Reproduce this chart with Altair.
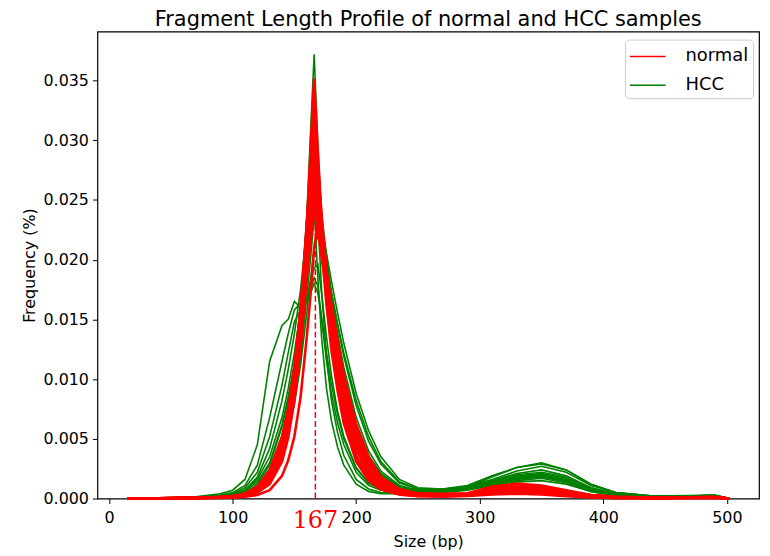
import altair as alt
import pandas as pd

# x positions (bp) at which the profiles are read
size_bp = [15, 40, 70, 90, 100, 110, 120, 130, 140, 145, 150, 155, 160, 163, 166, 169, 172, 176, 180, 185,
           190, 200, 210, 220, 235, 250, 270, 290, 310, 330, 350, 370, 390, 410, 440, 470, 490, 502]

# normal samples
normal_1 = [0, 0.00002, 0.00004, 0.00008, 0.00012, 0.00022, 0.0005, 0.0013, 0.0034, 0.0056, 0.009, 0.0145, 0.0225, 0.029, 0.0352, 0.029, 0.0235, 0.018, 0.014, 0.0102, 0.0072, 0.0036, 0.0018, 0.0009, 0.0004, 0.00025, 0.0002, 0.00025, 0.0004, 0.0005, 0.0004, 0.00025, 0.00012, 0.00006, 0.00004, 0.00006, 0.00008, 0]
normal_2 = [0, 0.00002, 0.00005, 0.0001, 0.00014, 0.00026, 0.0006, 0.0015, 0.0037, 0.006, 0.0093, 0.0142, 0.0215, 0.027, 0.033, 0.028, 0.0235, 0.019, 0.015, 0.0113, 0.0082, 0.0042, 0.0021, 0.001, 0.00045, 0.0003, 0.00022, 0.0003, 0.0005, 0.0006, 0.0005, 0.0003, 0.00015, 0.00008, 0.00005, 0.00007, 0.00009, 0]
normal_3 = [0, 0.00003, 0.00006, 0.00013, 0.0002, 0.0004, 0.0009, 0.0022, 0.005, 0.0075, 0.011, 0.016, 0.0225, 0.027, 0.031, 0.0265, 0.0215, 0.0168, 0.013, 0.0095, 0.0067, 0.0033, 0.0016, 0.0008, 0.00035, 0.00022, 0.0002, 0.00025, 0.0004, 0.00045, 0.0004, 0.00025, 0.00012, 0.00006, 0.00004, 0.00005, 0.00007, 0]
normal_4 = [0, 0.00002, 0.00004, 0.00008, 0.00012, 0.00022, 0.0005, 0.0012, 0.0031, 0.0051, 0.0082, 0.0128, 0.019, 0.0235, 0.029, 0.026, 0.0228, 0.0192, 0.016, 0.0125, 0.0095, 0.0053, 0.0029, 0.0015, 0.0006, 0.00035, 0.0003, 0.00035, 0.0007, 0.0009, 0.0008, 0.0005, 0.00025, 0.00012, 0.00006, 0.0001, 0.00012, 0]
normal_5 = [0, 0.00003, 0.00006, 0.00011, 0.00017, 0.00033, 0.0008, 0.0019, 0.0044, 0.0066, 0.0098, 0.0145, 0.0205, 0.0238, 0.027, 0.0245, 0.0215, 0.0178, 0.0146, 0.0113, 0.0085, 0.0046, 0.0024, 0.0012, 0.00055, 0.00032, 0.00028, 0.00032, 0.0006, 0.0008, 0.0007, 0.00045, 0.0002, 0.0001, 0.00005, 0.00008, 0.0001, 0]
normal_6 = [0, 0.00002, 0.00005, 0.0001, 0.00015, 0.0003, 0.0007, 0.0016, 0.0038, 0.0058, 0.0088, 0.013, 0.0185, 0.0218, 0.025, 0.0235, 0.0212, 0.0185, 0.0158, 0.0128, 0.0099, 0.0058, 0.0032, 0.0017, 0.0007, 0.0004, 0.00035, 0.0004, 0.0009, 0.0012, 0.001, 0.0006, 0.0003, 0.00015, 0.00007, 0.0001, 0.00013, 0]
normal_7 = [0, 0.00001, 0.00003, 0.00006, 0.00009, 0.00016, 0.0003, 0.0007, 0.0019, 0.0032, 0.0052, 0.0085, 0.0135, 0.017, 0.021, 0.023, 0.0215, 0.0188, 0.0162, 0.0132, 0.0103, 0.0062, 0.0035, 0.0018, 0.0008, 0.00045, 0.0004, 0.00045, 0.001, 0.00125, 0.0011, 0.0007, 0.0003, 0.00015, 0.00008, 0.0001, 0.00012, 0]
normal_8 = [0, 0.00003, 0.00006, 0.00012, 0.00018, 0.00035, 0.0008, 0.0019, 0.0045, 0.0069, 0.0103, 0.0155, 0.023, 0.028, 0.032, 0.0265, 0.021, 0.0162, 0.0124, 0.009, 0.0063, 0.0031, 0.0015, 0.00075, 0.00035, 0.0002, 0.00018, 0.00022, 0.00035, 0.0004, 0.00035, 0.0002, 0.0001, 0.00005, 0.00003, 0.00005, 0.00006, 0]
normal_9 = [0, 0.00002, 0.00005, 0.0001, 0.00015, 0.00028, 0.00065, 0.0016, 0.0039, 0.0061, 0.0094, 0.0142, 0.0205, 0.0245, 0.028, 0.0248, 0.0212, 0.0174, 0.014, 0.0106, 0.0078, 0.0041, 0.0021, 0.00105, 0.00048, 0.0003, 0.00026, 0.0003, 0.00055, 0.0007, 0.0006, 0.0004, 0.0002, 0.0001, 0.00005, 0.00007, 0.00009, 0]
normal_10 = [0, 0.00002, 0.00005, 0.0001, 0.00015, 0.0003, 0.0007, 0.0017, 0.004, 0.0062, 0.0095, 0.0145, 0.021, 0.0255, 0.03, 0.026, 0.022, 0.018, 0.0145, 0.011, 0.008, 0.0042, 0.0022, 0.0011, 0.0005, 0.0003, 0.00025, 0.0003, 0.0006, 0.0008, 0.0007, 0.0004, 0.0002, 0.0001, 0.00005, 0.00008, 0.0001, 0]
normal_11 = [0, 0.00003, 0.00007, 0.00014, 0.00022, 0.00042, 0.001, 0.0024, 0.0052, 0.0074, 0.0104, 0.0142, 0.0188, 0.0215, 0.024, 0.0225, 0.0202, 0.0175, 0.015, 0.012, 0.0093, 0.0054, 0.003, 0.0016, 0.0007, 0.0004, 0.00035, 0.0004, 0.0008, 0.001, 0.0009, 0.0005, 0.00025, 0.00012, 0.00006, 0.00009, 0.00011, 0]
normal_12 = [0, 0.00002, 0.00004, 0.00009, 0.00013, 0.00025, 0.0006, 0.0014, 0.0034, 0.0054, 0.0084, 0.0128, 0.0188, 0.0225, 0.026, 0.0238, 0.021, 0.0176, 0.0146, 0.0114, 0.0087, 0.0049, 0.0027, 0.0014, 0.0006, 0.00036, 0.0003, 0.00036, 0.0007, 0.0009, 0.0008, 0.0005, 0.00025, 0.00012, 0.00006, 0.00009, 0.00011, 0]

# HCC samples
hcc_1 = [0, 0.00002, 0.00005, 0.0001, 0.00015, 0.0003, 0.0007, 0.0017, 0.004, 0.0063, 0.0097, 0.015, 0.0235, 0.0305, 0.0372, 0.0295, 0.0235, 0.0178, 0.0138, 0.0101, 0.0072, 0.0036, 0.0018, 0.0009, 0.00045, 0.0003, 0.00025, 0.0003, 0.0005, 0.0006, 0.0005, 0.0003, 0.00015, 0.00008, 0.00005, 0.00008, 0.0001, 0]
hcc_2 = [0, 0.00003, 0.00007, 0.00013, 0.0002, 0.0004, 0.0009, 0.0019, 0.004, 0.006, 0.0088, 0.0128, 0.0182, 0.0218, 0.026, 0.0245, 0.0225, 0.0198, 0.0173, 0.0145, 0.0119, 0.0078, 0.0048, 0.0029, 0.0013, 0.0008, 0.00075, 0.001, 0.0018, 0.0026, 0.003, 0.0024, 0.0012, 0.0005, 0.0002, 0.0002, 0.0003, 0]
hcc_3 = [0, 0.00003, 0.00007, 0.00013, 0.0002, 0.0004, 0.0009, 0.0018, 0.0037, 0.0055, 0.0081, 0.0118, 0.0168, 0.02, 0.0235, 0.024, 0.0228, 0.0205, 0.0182, 0.0155, 0.013, 0.0088, 0.0057, 0.0035, 0.0016, 0.0009, 0.0008, 0.001, 0.0016, 0.0023, 0.0027, 0.0022, 0.0011, 0.0005, 0.0002, 0.0002, 0.0003, 0]
hcc_4 = [0, 0.00002, 0.00005, 0.0001, 0.00016, 0.0003, 0.0007, 0.0016, 0.0036, 0.0056, 0.0085, 0.0127, 0.0185, 0.0225, 0.027, 0.0252, 0.0228, 0.0197, 0.0168, 0.0138, 0.011, 0.0068, 0.004, 0.0023, 0.0011, 0.0007, 0.0007, 0.0009, 0.0015, 0.0021, 0.0024, 0.0019, 0.0009, 0.0004, 0.00015, 0.0002, 0.00025, 0]
hcc_5 = [0, 0.00003, 0.00006, 0.00012, 0.00018, 0.00035, 0.0008, 0.0018, 0.0042, 0.0065, 0.0098, 0.0145, 0.021, 0.025, 0.029, 0.0268, 0.024, 0.0203, 0.017, 0.0136, 0.0106, 0.0063, 0.0036, 0.002, 0.0009, 0.0006, 0.0006, 0.0008, 0.0013, 0.0018, 0.002, 0.0016, 0.0008, 0.0003, 0.00012, 0.00015, 0.0002, 0]
hcc_6 = [0, 0.00004, 0.0001, 0.0002, 0.0003, 0.0006, 0.0014, 0.003, 0.0062, 0.0085, 0.0112, 0.0148, 0.0195, 0.0222, 0.025, 0.0235, 0.021, 0.0182, 0.0155, 0.0126, 0.0099, 0.006, 0.0036, 0.0021, 0.001, 0.0007, 0.0007, 0.0009, 0.0014, 0.002, 0.0022, 0.0018, 0.0009, 0.0004, 0.00015, 0.0002, 0.00025, 0]
hcc_7 = [0, 0.00004, 0.0001, 0.0002, 0.00035, 0.0007, 0.0016, 0.0035, 0.0068, 0.0092, 0.0122, 0.0158, 0.0202, 0.0225, 0.0245, 0.0185, 0.0135, 0.0092, 0.0065, 0.0043, 0.0028, 0.0012, 0.0006, 0.0004, 0.0004, 0.0005, 0.0006, 0.0008, 0.0012, 0.0016, 0.0018, 0.0014, 0.0007, 0.0003, 0.00012, 0.00015, 0.0002, 0]
hcc_8 = [0, 0.00005, 0.00015, 0.0004, 0.0007, 0.0016, 0.0045, 0.0115, 0.0145, 0.015, 0.0165, 0.016, 0.0165, 0.0175, 0.0185, 0.0178, 0.015, 0.0115, 0.0088, 0.0063, 0.0045, 0.0022, 0.0011, 0.0007, 0.0006, 0.0006, 0.0007, 0.0009, 0.0014, 0.0019, 0.0021, 0.0017, 0.0008, 0.0003, 0.00012, 0.00018, 0.00022, 0]
hcc_9 = [0, 0.00004, 0.00012, 0.0003, 0.0005, 0.0011, 0.0028, 0.0068, 0.0115, 0.0138, 0.0158, 0.0164, 0.0168, 0.0182, 0.0193, 0.0196, 0.0172, 0.0135, 0.0103, 0.0073, 0.0052, 0.0026, 0.0013, 0.0008, 0.0006, 0.0006, 0.0007, 0.0009, 0.0013, 0.0017, 0.0019, 0.0015, 0.0007, 0.0003, 0.0001, 0.00015, 0.0002, 0]
hcc_10 = [0, 0.00004, 0.0001, 0.00025, 0.0004, 0.0009, 0.0022, 0.0052, 0.0095, 0.0122, 0.0148, 0.0158, 0.0165, 0.0172, 0.018, 0.0172, 0.0152, 0.0122, 0.0096, 0.007, 0.005, 0.0025, 0.0013, 0.0008, 0.0006, 0.0006, 0.0007, 0.0009, 0.0013, 0.0017, 0.0019, 0.0015, 0.0007, 0.0003, 0.0001, 0.00015, 0.0002, 0]
hcc_11 = [0, 0.00003, 0.00007, 0.00014, 0.0002, 0.0004, 0.001, 0.0023, 0.0052, 0.0078, 0.0113, 0.0163, 0.0235, 0.028, 0.033, 0.0275, 0.0225, 0.0178, 0.0142, 0.0108, 0.008, 0.0042, 0.0022, 0.0012, 0.0006, 0.0005, 0.0005, 0.0007, 0.0011, 0.0015, 0.0017, 0.0013, 0.0006, 0.00025, 0.0001, 0.00015, 0.0002, 0]
hcc_12 = [0, 0.00003, 0.00006, 0.00012, 0.00018, 0.00035, 0.0008, 0.0018, 0.0038, 0.0055, 0.0079, 0.0112, 0.0155, 0.0183, 0.021, 0.022, 0.021, 0.0192, 0.0172, 0.0146, 0.0122, 0.0082, 0.0052, 0.0031, 0.0014, 0.0008, 0.0008, 0.0011, 0.0019, 0.0026, 0.0029, 0.0024, 0.0012, 0.0005, 0.0002, 0.00025, 0.0003, 0]
hcc_13 = [0, 0.00004, 0.0001, 0.00022, 0.00035, 0.0007, 0.0018, 0.0042, 0.0082, 0.0108, 0.0138, 0.0175, 0.0225, 0.0255, 0.028, 0.025, 0.0215, 0.0178, 0.0147, 0.0116, 0.0089, 0.005, 0.0028, 0.0016, 0.0008, 0.0006, 0.0006, 0.0008, 0.0012, 0.0017, 0.0019, 0.0015, 0.0007, 0.0003, 0.0001, 0.00015, 0.0002, 0]
hcc_14 = [0, 0.00003, 0.00008, 0.00016, 0.00025, 0.0005, 0.0012, 0.0028, 0.006, 0.0083, 0.0112, 0.015, 0.0195, 0.0218, 0.0232, 0.0235, 0.0175, 0.0118, 0.0082, 0.0055, 0.0036, 0.0016, 0.0008, 0.0005, 0.0004, 0.0005, 0.0006, 0.0008, 0.0011, 0.0014, 0.0015, 0.0012, 0.0006, 0.0002, 0.0001, 0.00012, 0.00015, 0]

normal_samples = [normal_1, normal_2, normal_3, normal_4, normal_5, normal_6, normal_7, normal_8,
                  normal_9, normal_10, normal_11, normal_12]
hcc_samples = [hcc_1, hcc_2, hcc_3, hcc_4, hcc_5, hcc_6, hcc_7, hcc_8, hcc_9, hcc_10, hcc_11, hcc_12,
               hcc_13, hcc_14]

mode_bp = 167
mode_line_top = 0.0258


def build(group, samples):
    rows = []
    for i, s in enumerate(samples):
        for x, y in zip(size_bp, s):
            rows.append({"size": x, "freq": y, "sample": f"{group}_{i+1}", "group": group})
    return pd.DataFrame(rows)


df_normal = build("normal", normal_samples)
df_hcc = build("HCC", hcc_samples)

W, H = 666, 470
FONT = "DejaVu Sans"

xscale = alt.Scale(domain=[-9.4, 526], nice=False, zero=False)
yscale = alt.Scale(domain=[0, 0.0391], nice=False, zero=False)
color = alt.Color(
    "group:N",
    scale=alt.Scale(domain=["normal", "HCC"], range=["#ff0000", "#008000"]),
    legend=alt.Legend(
        title=None, orient="none", legendX=531, legendY=8,
        symbolType="M-1,0h3", symbolSize=576, symbolStrokeWidth=1.5,
        labelFontSize=18, labelFont=FONT, labelColor="black",
        padding=4, strokeColor="#cccccc", fillColor="white", cornerRadius=4,
        rowPadding=7, labelOffset=31,
    ),
)

xax = alt.Axis(values=[0, 100, 200, 300, 400, 500], grid=False, tickSize=5, tickColor="black",
               domain=False, labelFontSize=16, labelFont=FONT, labelColor="black", labelPadding=6,
               title="Size (bp)", titleFontSize=16, titleFont=FONT, titleFontWeight="normal",
               titleColor="black", titlePadding=8)
yax = alt.Axis(values=[0, 0.005, 0.01, 0.015, 0.02, 0.025, 0.03, 0.035], format=".3f", grid=False,
               tickSize=5, tickColor="black", domain=False, labelFontSize=16, labelFont=FONT,
               labelColor="black", labelPadding=4, title="Frequency (%)", titleFontSize=16,
               titleFont=FONT, titleFontWeight="normal", titleColor="black", titlePadding=6)

green_lines = alt.Chart(df_hcc).mark_line(strokeWidth=1.6, interpolate="linear").encode(
    x=alt.X("size:Q", scale=xscale, axis=xax),
    y=alt.Y("freq:Q", scale=yscale, axis=yax),
    detail="sample:N",
    color=color,
)
red_lines = alt.Chart(df_normal).mark_line(strokeWidth=2.6, interpolate="linear").encode(
    x=alt.X("size:Q", scale=xscale),
    y=alt.Y("freq:Q", scale=yscale),
    detail="sample:N",
    color=color,
)

mode_df = pd.DataFrame({"size": [mode_bp], "y0": [0.0], "y1": [mode_line_top], "label": [str(mode_bp)]})
mode_rule = alt.Chart(mode_df).mark_rule(color="#ff0000", strokeWidth=1.5, strokeDash=[6, 3]).encode(
    x=alt.X("size:Q", scale=xscale), y=alt.Y("y0:Q", scale=yscale), y2="y1:Q"
)
mode_text = alt.Chart(mode_df).mark_text(
    color="#ff0000", font="DejaVu Serif", fontSize=24, baseline="alphabetic", align="center"
).encode(x=alt.X("size:Q", scale=xscale), y=alt.value(H + 30), text="label:N")

chart = alt.layer(green_lines, red_lines, mode_rule, mode_text).properties(
    width=W, height=H,
    title=alt.TitleParams("Fragment Length Profile of normal and HCC samples", fontSize=21, font=FONT,
                          fontWeight="normal", color="black", offset=2),
    autosize=alt.AutoSizeParams(type="none"),
    padding={"left": 90, "top": 22, "right": 3, "bottom": 52},
).configure_view(stroke="black", strokeWidth=1.2)

chart.save("out.html", embed_options={"renderer": "svg", "actions": False})
